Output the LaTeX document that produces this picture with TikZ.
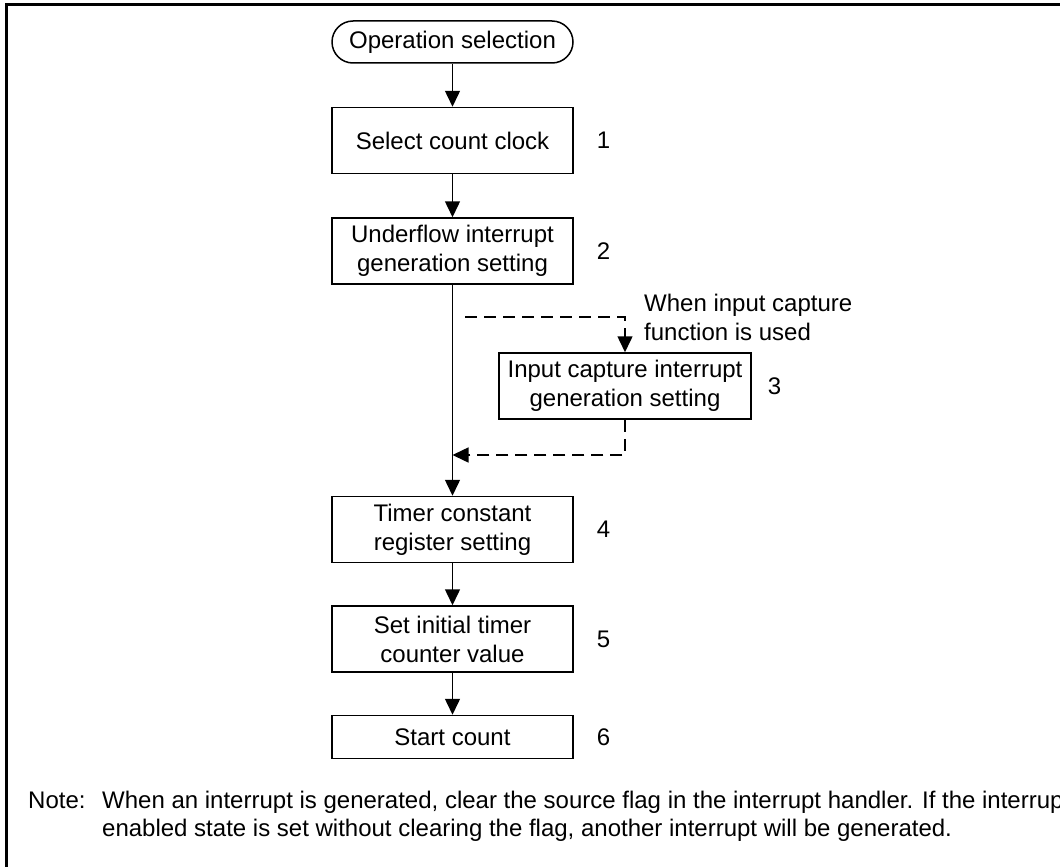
\documentclass[tikz,border=0pt]{standalone}
\usepackage{fontspec}
\setmainfont{Liberation Sans}
\usetikzlibrary{positioning,arrows.meta}
\tikzset{
  term/.style={rectangle,draw,line width=1.5pt,rounded corners=21pt,
    minimum width=241pt,minimum height=42pt,inner sep=0pt},
  stepbox/.style={rectangle,draw,line width=1.5pt,minimum width=241pt,
    minimum height=66pt,align=center,inner sep=0pt},
  numlbl/.style={inner sep=0pt},
  flow/.style={-{Triangle[length=16pt,width=15pt]},line width=1.5pt},
  dflow/.style={flow,dash pattern=on 12pt off 7pt},
}

\begin{document}
\begin{tikzpicture}[x=1pt,y=-1pt,font=\fontsize{24}{29}\selectfont,node distance=43pt]
  \clip (0,0) rectangle (1060,867);
  \draw[line width=3pt] (6,5) rectangle (1090,900);

  % main column
  \node[term] (opsel) at (452.5,42) {Operation selection};
  \node[stepbox,below=of opsel] (clk) {Select count clock};
  \node[stepbox,below=of clk] (uf) {Underflow interrupt\\generation setting};
  \node[stepbox,below=211pt of uf] (tcr) {Timer constant\\register setting};
  \node[stepbox,below=42pt of tcr] (cnt) {Set initial timer\\counter value};
  \node[stepbox,below=42pt of cnt,minimum height=43pt] (start) {Start count};

  % optional step
  \node[stepbox,minimum width=252pt] (cap) at (625,386) {Input capture interrupt\\generation setting};
  \node[anchor=west,align=left,inner sep=0pt] (capnote) at (644,317) {When input capture\\function is used};

  % step numbers
  \node[numlbl,right=23pt of clk] (n1) {1};
  \node[numlbl,right=23pt of uf] (n2) {2};
  \node[numlbl,right=16pt of cap] (n3) {3};
  \node[numlbl,right=23pt of tcr] (n4) {4};
  \node[numlbl,right=23pt of cnt] (n5) {5};
  \node[numlbl,right=23pt of start] (n6) {6};

  \draw[flow] (opsel) -- (clk);
  \draw[flow] (clk) -- (uf);
  \draw[flow] (uf) -- (tcr);
  \draw[flow] (tcr) -- (cnt);
  \draw[flow] (cnt) -- (start);

  \coordinate (brk) at (465,317);
  \coordinate (mrg) at (452.5,455);
  \draw[dflow] (brk) -| (cap.north);
  \draw[dflow] (cap.south) |- (mrg);

  % note
  \node[anchor=base west,inner sep=0pt] (notehd) at (28,808) {Note:};
  \node[anchor=base west,inner sep=0pt] (note1) at (102,808)
    {When an interrupt is generated, clear the source flag in the interrupt handler. If the interrupt};
  \node[anchor=base west,inner sep=0pt] (note2) at (102,836)
    {enabled state is set without clearing the flag, another interrupt will be generated.};
\end{tikzpicture}
\end{document}
